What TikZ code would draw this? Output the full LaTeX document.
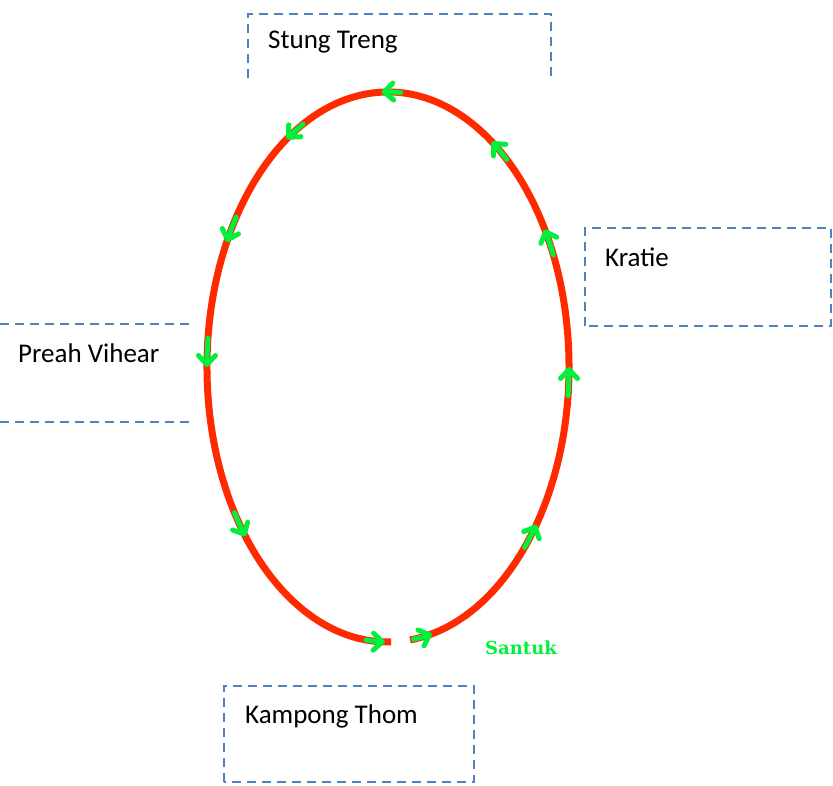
\documentclass[tikz,border=0pt]{standalone}
\usepackage{fontspec}
\setmainfont{Carlito}
\newfontfamily\stampfont{DejaVu Serif}
\usetikzlibrary{arrows.meta}
\definecolor{boxblue}{HTML}{4F81BD}
\definecolor{loopred}{HTML}{FF2A00}
\definecolor{arrowgreen}{HTML}{00F03C}

\begin{document}
\begin{tikzpicture}[x=1pt,y=1pt,
	boxline/.style={boxblue,line width=2.2pt,dash pattern=on 9pt off 6pt},
	place/.style={anchor=west,inner sep=0pt,font=\fontsize{27}{31}\selectfont},
	tip/.style={arrowgreen,line width=5pt,line cap=round,-{Straight Barb[length=9pt,width=17pt,round]}}]
	\useasboundingbox (0,0) rectangle (833,785);
	\draw[boxline] (248,707) -- (248,771) -- (551,771) -- (551,707);
	\draw[boxline] (585,459) rectangle (831,557);
	\draw[boxline] (0,461) -- (190,461)
		(0,363) -- (190,363);
	\draw[boxline] (224,3) rectangle (474,99);
	\node[place] (stungtreng) at (268,743) {Stung Treng};
	\node[place] (kratie) at (605,528) {Kratie};
	\node[place] (preahvihear) at (18,432) {Preah Vihear};
	\node[place] (kampongthom) at (245,69) {Kampong Thom};
	\draw[loopred,line width=7pt] (388,418) ++(277:181 and 275)
		arc[start angle=277,end angle=631,x radius=181,y radius=275];
	\foreach \a in {282,323,358,388,413,450,482,511,538,576,627}
		\draw[tip] (388,418) ++(\a-4:181 and 275)
			arc[start angle=\a-4,end angle=\a+2,x radius=181,y radius=275];
	\node[arrowgreen,font=\stampfont\bfseries\fontsize{18}{20}\selectfont] (santuk) at (521,137) {Santuk};
\end{tikzpicture}
\end{document}
